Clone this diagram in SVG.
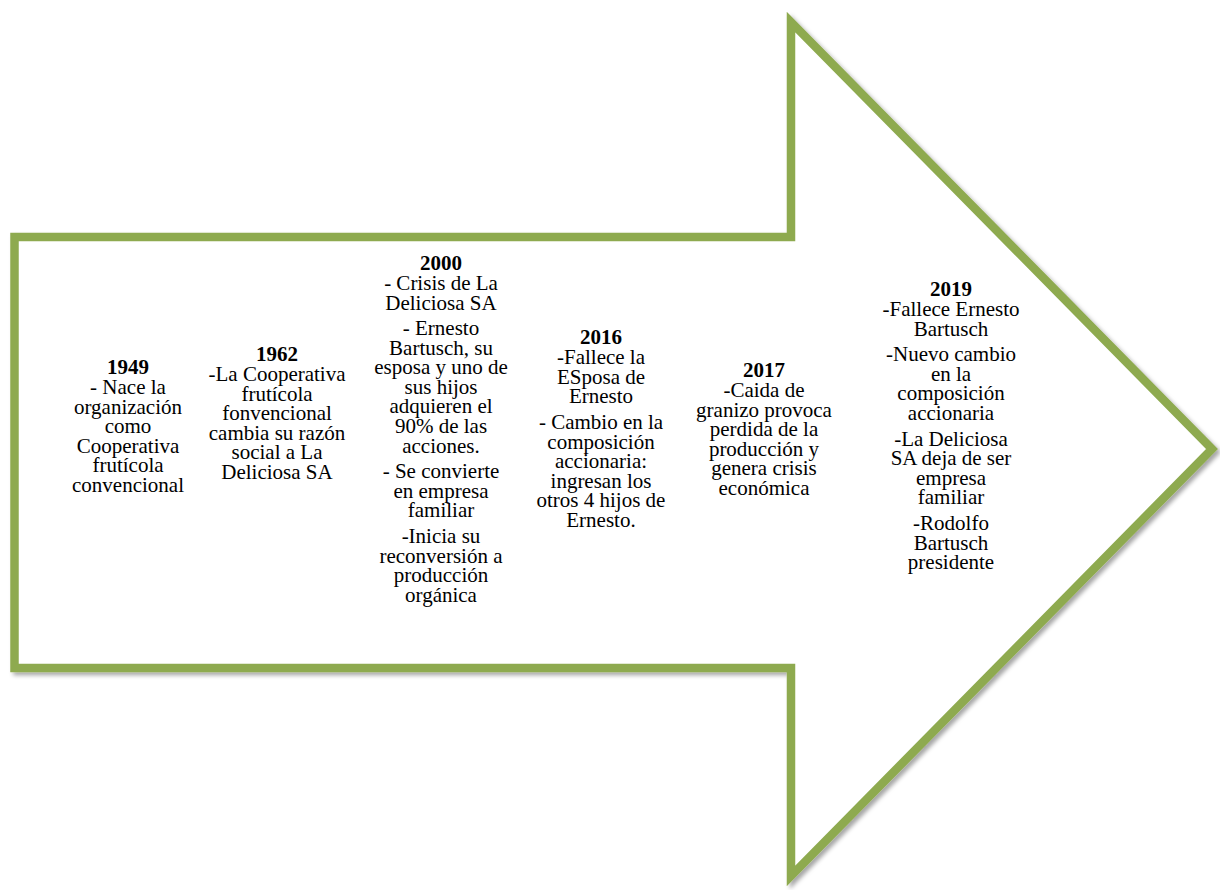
<svg xmlns="http://www.w3.org/2000/svg" width="1220" height="890" viewBox="0 0 1220 890">
<defs>
<filter id="sh" x="-5%" y="-5%" width="110%" height="110%">
<feDropShadow dx="3" dy="3" stdDeviation="2" flood-color="#000" flood-opacity="0.35"/>
</filter>
<style>
.arrow{fill:#fff;stroke:#8EAA50;stroke-width:8.5;stroke-linejoin:miter;stroke-miterlimit:10}
text{font-family:"Liberation Serif","Times New Roman",serif;font-size:21px;fill:#000;text-anchor:middle}
.y{font-weight:bold}
</style>
</defs>
<g id="arrow">
<path class="arrow" filter="url(#sh)" d="M14.5,237 L791,237 L791,22 L1212,449 L791,876 L791,668 L14.5,668 Z"/>
</g>
<g id="connectors"/>
<g id="n1949">
<text class="y" x="128" y="374">1949</text>
<text x="128" y="394">- Nace la</text>
<text x="128" y="413.6">organización</text>
<text x="128" y="433.2">como</text>
<text x="128" y="452.8">Cooperativa</text>
<text x="128" y="472.4">frutícola</text>
<text x="128" y="492">convencional</text>
</g>
<g id="n1962">
<text class="y" x="277" y="361">1962</text>
<text x="277" y="381">-La Cooperativa</text>
<text x="277" y="400.6">frutícola</text>
<text x="277" y="420.2">fonvencional</text>
<text x="277" y="439.8">cambia su razón</text>
<text x="277" y="459.4">social a La</text>
<text x="277" y="479">Deliciosa SA</text>
</g>
<g id="n2000">
<text class="y" x="441" y="270">2000</text>
<text x="441" y="290">- Crisis de La</text>
<text x="441" y="309.6">Deliciosa SA</text>
<text x="441" y="335">- Ernesto</text>
<text x="441" y="354.6">Bartusch, su</text>
<text x="441" y="374.2">esposa y uno de</text>
<text x="441" y="393.8">sus hijos</text>
<text x="441" y="413.4">adquieren el</text>
<text x="441" y="433">90% de las</text>
<text x="441" y="452.6">acciones.</text>
<text x="441" y="478">- Se convierte</text>
<text x="441" y="497.6">en empresa</text>
<text x="441" y="517.2">familiar</text>
<text x="441" y="543">-Inicia su</text>
<text x="441" y="562.6">reconversión a</text>
<text x="441" y="582.2">producción</text>
<text x="441" y="601.8">orgánica</text>
</g>
<g id="n2016">
<text class="y" x="601" y="344">2016</text>
<text x="601" y="364">-Fallece la</text>
<text x="601" y="383.6">ESposa de</text>
<text x="601" y="403.2">Ernesto</text>
<text x="601" y="429">- Cambio en la</text>
<text x="601" y="448.6">composición</text>
<text x="601" y="468.2">accionaria:</text>
<text x="601" y="487.8">ingresan los</text>
<text x="601" y="507.4">otros 4 hijos de</text>
<text x="601" y="527">Ernesto.</text>
</g>
<g id="n2017">
<text class="y" x="764" y="377">2017</text>
<text x="764" y="397">-Caida de</text>
<text x="764" y="416.6">granizo provoca</text>
<text x="764" y="436.2">perdida de la</text>
<text x="764" y="455.8">producción y</text>
<text x="764" y="475.4">genera crisis</text>
<text x="764" y="495">económica</text>
</g>
<g id="n2019">
<text class="y" x="951" y="296">2019</text>
<text x="951" y="316">-Fallece Ernesto</text>
<text x="951" y="335.6">Bartusch</text>
<text x="951" y="361">-Nuevo cambio</text>
<text x="951" y="380.6">en la</text>
<text x="951" y="400.2">composición</text>
<text x="951" y="419.8">accionaria</text>
<text x="951" y="445.5">-La Deliciosa</text>
<text x="951" y="465.1">SA deja de ser</text>
<text x="951" y="484.7">empresa</text>
<text x="951" y="504.3">familiar</text>
<text x="951" y="530">-Rodolfo</text>
<text x="951" y="549.6">Bartusch</text>
<text x="951" y="569.2">presidente</text>
</g>
</svg>
